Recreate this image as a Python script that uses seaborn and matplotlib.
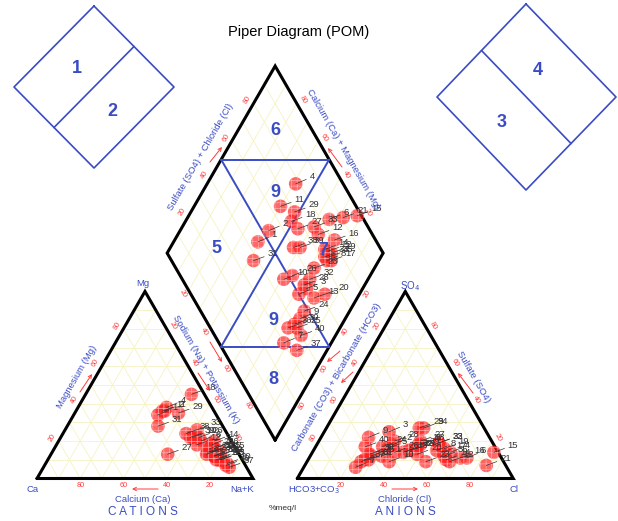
import numpy as np
import pandas as pd
import matplotlib
matplotlib.use("Agg")
import matplotlib.pyplot as plt
import seaborn as sns

# ---------------- data (percent of meq/l) ----------------
sample_ids = list(range(1, 41))
mg_pct  = [34, 36, 16, 38, 18, 20, 12, 12, 10, 22, 36, 18, 10, 20, 14, 16, 10, 45, 12, 8,
           14, 14, 13, 11, 10, 22, 13, 16, 35, 12, 28, 14, 26, 14, 14, 12, 6, 24, 22, 7]
nak_pct = [39, 41, 74, 41, 72, 66, 78, 76, 79, 61, 40, 65, 80, 72, 78, 74, 78, 49, 76, 84,
           72, 74, 72, 79, 80, 64, 54, 72, 48, 78, 42, 73, 61, 74, 76, 76, 86, 57, 60, 84]
so4_pct = [12, 18, 25, 14, 16, 11, 6, 15, 22, 9, 18, 9, 14, 10, 14, 11, 14, 18, 16, 13,
           7, 19, 9, 17, 12, 14, 20, 20, 27, 13, 10, 15, 19, 27, 12, 10, 9, 15, 16, 17]
cl_pct  = [33, 35, 30, 64, 34, 73, 24, 57, 22, 38, 47, 66, 42, 64, 84, 70, 60, 48, 60, 49,
           84, 56, 55, 31, 28, 38, 47, 35, 43, 27, 28, 44, 56, 45, 62, 26, 25, 45, 47, 23]

edge_ticks = [20, 40, 60, 80]

# ---------------- geometry ----------------
H = np.sqrt(3) / 2
GAP = 20.5
S = 2.16                 # pixels per ternary unit
X0, Y0 = 37.0, 478.5     # pixel position of the Ca vertex
WPX, HPX = 618, 521
AOFF = 100 + GAP
DB = (100 + GAP / 2, GAP * H)

def P(x, y):
    return ((x - X0) / S, (Y0 - y) / S)

def cat_xy(mg, na):
    return na + mg / 2.0, mg * H

def an_xy(so4, cl):
    return AOFF + cl + so4 / 2.0, so4 * H

def dia_xy(a, b):
    return DB[0] + 50 * (a - b), DB[1] + 100 * H * (a + b)

df = pd.DataFrame({"id": sample_ids, "mg": mg_pct, "na": nak_pct,
                   "so4": so4_pct, "cl": cl_pct})
df["ca"] = 100 - df.mg - df.na
df["hco3"] = 100 - df.so4 - df.cl
cx, cy = cat_xy(df.mg.values, df.na.values)
ax_, ay_ = an_xy(df.so4.values, df.cl.values)
dx, dy = dia_xy((df.so4 + df.cl).values / 100.0, (df.ca + df.mg).values / 100.0)
pts = pd.concat([
    pd.DataFrame({"id": df.id, "x": cx, "y": cy, "view": "cation"}),
    pd.DataFrame({"id": df.id, "x": ax_, "y": ay_, "view": "anion"}),
    pd.DataFrame({"id": df.id, "x": dx, "y": dy, "view": "diamond"}),
], ignore_index=True)

# ---------------- figure ----------------
sns.set_style("white")
plt.rcParams["font.family"] = ["Liberation Sans", "DejaVu Sans"]
plt.rcParams["hatch.linewidth"] = 0.5
fig = plt.figure(figsize=(WPX / 100, HPX / 100), dpi=100)
ax = fig.add_axes([0, 0, 1, 1])
ax.set_xlim(P(0, 0)[0], P(WPX, 0)[0])
ax.set_ylim(P(0, HPX)[1], P(0, 0)[1])
ax.axis("off")

GRID = "#f6f3c2"
BLUE = "#3a4cc4"
RED = "#ff3b3b"

# grid lines
for i in range(10, 100, 10):
    for off in (0, AOFF):
        segs = [((off + i / 2, i * H), (off + 100 - i / 2, i * H)),
                ((off + 100 - i, 0), (off + (100 - i) / 2, (100 - i) * H)),
                ((off + i, 0), (off + i + (100 - i) / 2, (100 - i) * H))]
        for (a, b) in segs:
            ax.plot([a[0], b[0]], [a[1], b[1]], color=GRID, lw=0.6, zorder=1)
    f = i / 100
    for (a, b) in [(dia_xy(f, 0), dia_xy(f, 1)), (dia_xy(0, f), dia_xy(1, f))]:
        ax.plot([a[0], b[0]], [a[1], b[1]], color=GRID, lw=0.6, zorder=1)

# outlines
tri_c = [(0, 0), (100, 0), (50, 100 * H), (0, 0)]
tri_a = [(AOFF, 0), (AOFF + 100, 0), (AOFF + 50, 100 * H), (AOFF, 0)]
dia = [dia_xy(0, 0), dia_xy(1, 0), dia_xy(1, 1), dia_xy(0, 1), dia_xy(0, 0)]
for poly in (tri_c, tri_a, dia):
    xs, ys = zip(*poly)
    ax.plot(xs, ys, color="black", lw=2.2, zorder=2, solid_joinstyle="miter")

# blue inner lines of the diamond
for (a, b) in [((0.5, 1), (1, 0.5)), ((0, 0.5), (0.5, 0)),
               ((0.5, 1), (0.5, 0)), ((1, 0.5), (0, 0.5))]:
    p, q = dia_xy(*a), dia_xy(*b)
    ax.plot([p[0], q[0]], [p[1], q[1]], color=BLUE, lw=1.4, zorder=2)

# edge tick labels
tk = dict(color=RED, fontsize=5.2, ha="center", va="center", zorder=2)
d = 3.2
for t in edge_ticks:
    ax.text(100 - t, -3.2, str(t), **tk)
    ax.text(AOFF + t, -3.2, str(t), **tk)
    x, y = t / 2, t * H
    ax.text(x - d * H, y + d * 0.5, str(t), rotation=60, **tk)
    x, y = t + (100 - t) / 2, (100 - t) * H
    ax.text(x + d * H, y + d * 0.5, str(t), rotation=-60, **tk)
    x, y = AOFF + (100 - t) / 2, (100 - t) * H
    ax.text(x - d * H, y + d * 0.5, str(t), rotation=60, **tk)
    x, y = AOFF + 100 - t / 2, t * H
    ax.text(x + d * H, y + d * 0.5, str(t), rotation=-60, **tk)
    f = t / 100
    x, y = dia_xy(f, 1)
    ax.text(x - d * H, y + d * 0.5, str(t), rotation=60, **tk)
    x, y = dia_xy(1, f)
    ax.text(x + d * H, y + d * 0.5, str(t), rotation=-60, **tk)
    x, y = dia_xy(0, 1 - f)
    ax.text(x - d * H, y - d * 0.5, str(t), rotation=-60, **tk)
    x, y = dia_xy(1 - f, 0)
    ax.text(x + d * H, y - d * 0.5, str(t), rotation=60, **tk)

# axis titles
def T(xp, yp, s, rot=0, size=6.8, color=BLUE, **kw):
    ax.text(*P(xp, yp), s, rotation=rot, fontsize=size, color=color,
            ha="center", va="center", rotation_mode="anchor", zorder=5, **kw)

def A(x1, y1, x2, y2):
    ax.annotate("", xy=P(x2, y2), xytext=P(x1, y1),
                arrowprops=dict(arrowstyle="->", color=RED, lw=0.7,
                                mutation_scale=6, shrinkA=0, shrinkB=0), zorder=5)

T(299, 32, "Piper Diagram (POM)", size=10.5, color="black")
T(143, 284, "Mg")
T(33, 490, "Ca")
T(242, 490, "Na+K")
T(143, 500, "Calcium (Ca)")
A(158, 489, 132, 489)
T(77, 377, "Magnesium (Mg)", rot=60)
A(80, 392, 92, 374)
T(206, 369, "Sodium (Na) + Potassium (K)", rot=-60)
A(210, 342, 222, 362)
A(198, 373, 210, 391)
T(143, 512, "C A T I O N S", size=8.5)
T(410, 286, "SO$_4$", size=7)
T(314, 490, "HCO3+CO$_3$")
T(514, 490, "Cl")
T(405, 500, "Chloride (Cl)")
A(392, 489, 418, 489)
T(473, 377, "Sulfate (SO4)", rot=-60)
A(473, 393, 458, 373)
T(337, 377, "Carbonate (CO3) + Bicarbonate (HCO3)", rot=60)
A(340, 351, 327, 362)
A(353, 372, 341, 383)
T(405, 512, "A N I O N S", size=8.5)
T(201, 157, "Sulfate (SO4) + Chloride (Cl)", rot=60)
A(210, 162, 222, 147)
T(343, 149, "Calcium (Ca) + Magnesium (Mg)", rot=-60)
A(342, 167, 328, 148)
T(283, 509, "%meq/l", size=6, color="#333333")

# classification boxes
for poly in ([(94, 6), (174, 87), (94, 168), (14, 87), (94, 6)],
             [(526, 4), (616, 97), (526, 190), (437, 97), (526, 4)]):
    xs, ys = zip(*[P(*p) for p in poly])
    ax.plot(xs, ys, color=BLUE, lw=1.2, zorder=2)
for (a, b) in [((54, 127.5), (134, 46.5)), ((481.5, 50.5), (571, 143.5))]:
    p, q = P(*a), P(*b)
    ax.plot([p[0], q[0]], [p[1], q[1]], color=BLUE, lw=1.2, zorder=2)

# points
sns.scatterplot(data=pts, x="x", y="y", ax=ax, s=95, color=(1, 0.12, 0.12, 0.68),
                edgecolor=(1, 0.7, 0.7, 0.9), linewidth=0, hatch="+++",
                legend=False, zorder=3)
for _, r in pts.iterrows():
    ax.annotate(str(r.id), xy=(r.x, r.y), xytext=(10, 5), textcoords="offset points",
                fontsize=6.8, color="#333333", ha="left", va="center", zorder=4,
                arrowprops=dict(arrowstyle="-", color="#333333", lw=0.5,
                                shrinkA=0, shrinkB=0))

# region numbers
for (xp, yp, s) in [(77, 68, "1"), (112, 111, "2"), (502, 122, "3"), (538, 70, "4"),
                    (216, 248, "5"), (275, 130, "6"), (323, 250, "7"), (273, 380, "8"),
                    (275, 192, "9"), (273, 320, "9")]:
    T(xp, yp, s, size=13, color=BLUE, fontweight="bold")

ax.set_xlabel("")
ax.set_ylabel("")
fig.savefig("out.png", dpi=100)
